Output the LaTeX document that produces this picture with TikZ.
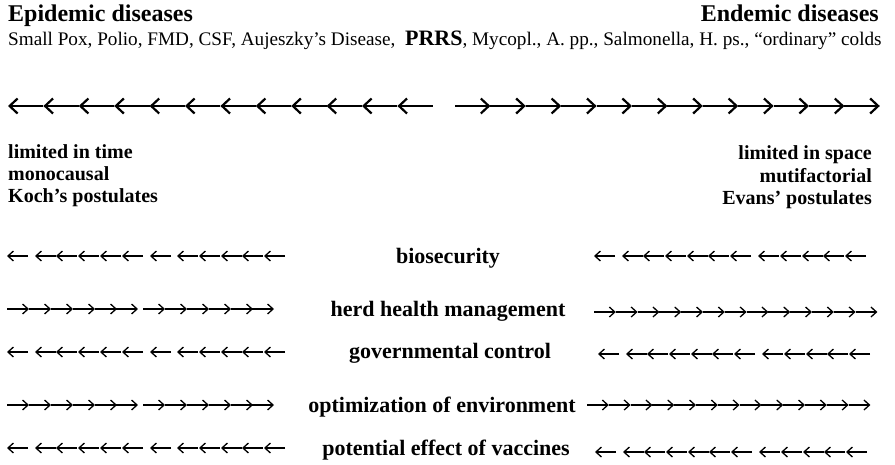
\documentclass[tikz,border=0pt]{standalone}
\usepackage{fontspec}
\setmainfont{Liberation Serif}
\usetikzlibrary{arrows.meta}

\tikzset{
  bigarrow/.style={line width=2.2pt, -{Straight Barb[length=8pt,width=15pt]}},
  smallarrow/.style={line width=1.3pt, -{Straight Barb[length=5.5pt,width=10pt]}},
  heading/.style={inner sep=0, font=\fontsize{24}{28}\selectfont\bfseries},
  listtext/.style={inner sep=0, font=\fontsize{19.2}{23}\selectfont},
  property/.style={inner sep=0, font=\fontsize{20}{24}\selectfont\bfseries},
  measure/.style={inner sep=0, anchor=base, font=\fontsize{22}{26}\selectfont\bfseries}
}

\begin{document}
\begin{tikzpicture}[x=1pt,y=-1pt]
\useasboundingbox (0,0) rectangle (895,464);

% headings
\node[heading, anchor=base west] (epidemic) at (8,21) {Epidemic diseases};
\node[heading, anchor=base east] (endemic) at (879,21) {Endemic diseases};
\node[listtext, anchor=base west] (diseases) at (8,45) {Small Pox, Polio, FMD, CSF, Aujeszky’s Disease, \ {\fontsize{22}{25}\selectfont\bfseries PRRS}, Mycopl., A. pp., Salmonella, H. ps., “ordinary” colds};

% big arrows
\foreach \i in {0,...,11} {
	\draw[bigarrow] (8+35.4*\i+35.4,106) -- (8+35.4*\i,106);
	\draw[bigarrow] (455+35.4*\i,106) -- (455+35.4*\i+35.4,106);
};

% properties
\node[property, anchor=base west] (time) at (8,158) {limited in time};
\node[property, anchor=base west] (mono) at (8,180) {monocausal};
\node[property, anchor=base west] (koch) at (8,202) {Koch’s postulates};
\node[property, anchor=base east] (space) at (872,159) {limited in space};
\node[property, anchor=base east] (multi) at (872,182) {mutifactorial};
\node[property, anchor=base east] (evans) at (872,204) {Evans’ postulates};

% measures
\node[measure] (bio) at (448,263) {biosecurity};
\node[measure] (herd) at (448,316) {herd health management};
\node[measure] (gov) at (450,358) {governmental control};
\node[measure] (env) at (442,412) {optimization of environment};
\node[measure] (vacc) at (446,455) {potential effect of vaccines};

% small arrows, left side
\foreach \y in {256,352,448} {
	\foreach \x in {7,35,56,78,100,122,150,177,199,221,242,264}
		\draw[smallarrow] (\x+21,\y) -- (\x,\y);
};
\foreach \y in {309,405} {
	\foreach \x in {7,29,51,73,95,116,143,165,187,209,231,252}
		\draw[smallarrow] (\x,\y) -- (\x+22,\y);
};

% small arrows, right side
\foreach \y/\s in {256/0,354/4,452/1} {
	\foreach \x in {594,622,643,665,687,708,730,758,780,802,823,845}
		\draw[smallarrow] (\x+\s+21,\y) -- (\x+\s,\y);
};
\foreach \y/\s in {312/594,405/587} {
	\foreach \i in {0,...,12}
		\draw[smallarrow] (\s+21.8*\i,\y) -- (\s+21.8*\i+21.8,\y);
};
\end{tikzpicture}
\end{document}
